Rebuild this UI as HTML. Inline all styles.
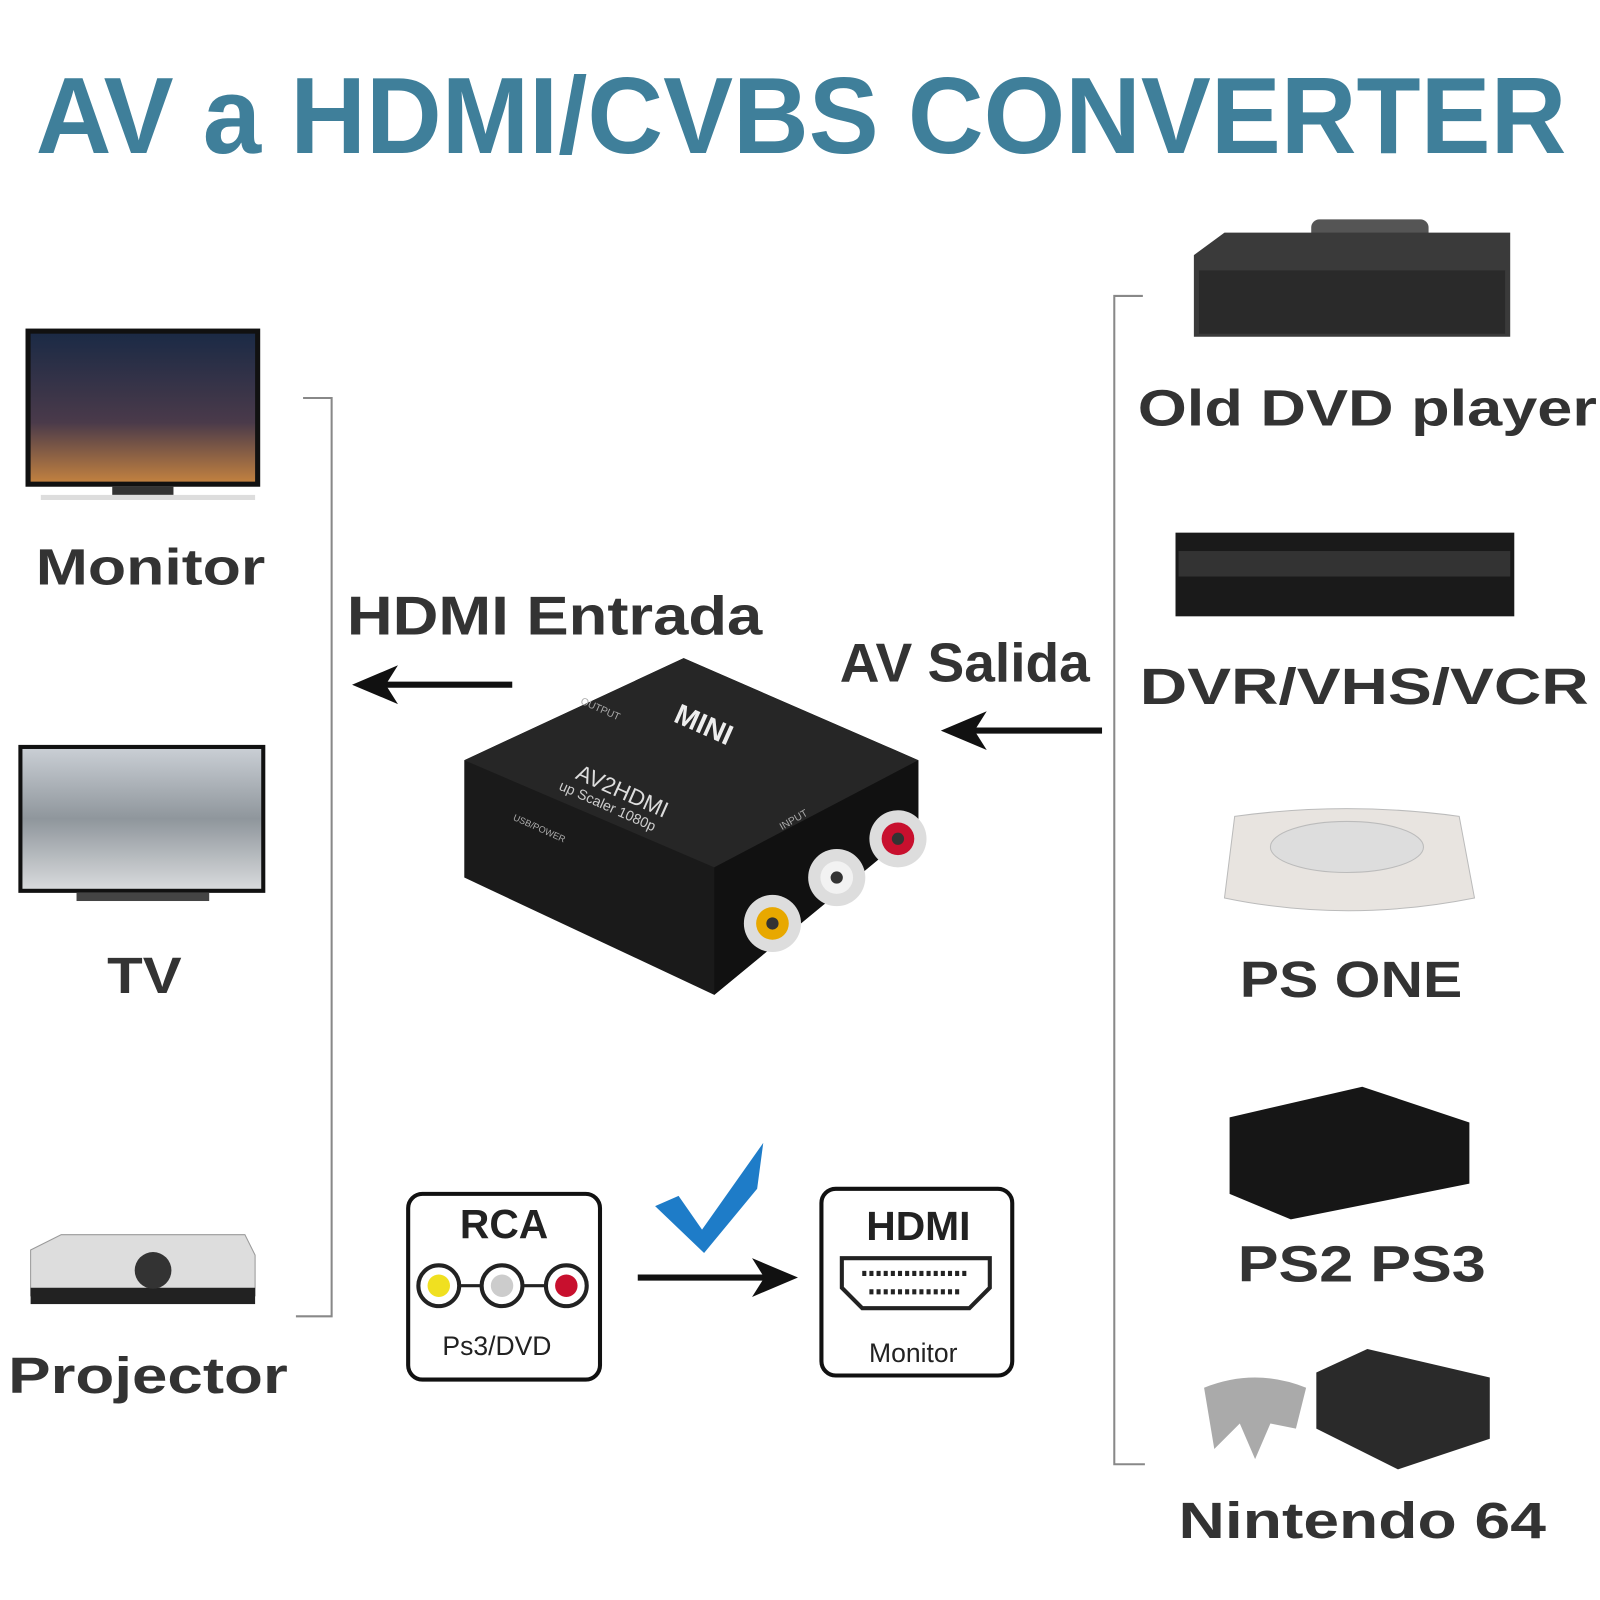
<!DOCTYPE html>
<html><head><meta charset="utf-8"><style>html,body{margin:0;padding:0;background:#fff}svg{display:block}</style></head>
<body>
<svg width="1600" height="1600" viewBox="0 0 1568 1568" xmlns="http://www.w3.org/2000/svg" font-family="Liberation Sans, sans-serif">
<defs>
<linearGradient id="city" x1="0" y1="0" x2="0" y2="1"><stop offset="0" stop-color="#1b2a45"/><stop offset="0.6" stop-color="#4a3a4a"/><stop offset="1" stop-color="#c08040"/></linearGradient>
<linearGradient id="snow" x1="0" y1="0" x2="0" y2="1"><stop offset="0" stop-color="#c9ced4"/><stop offset="0.5" stop-color="#8f969c"/><stop offset="1" stop-color="#d8dadc"/></linearGradient>
</defs>
<text x="35" y="150" font-size="106" font-weight="bold" fill="#3f7f9a" textLength="1500" lengthAdjust="spacingAndGlyphs">AV a HDMI/CVBS CONVERTER</text>

<path d="M297 390 H325 V1290 H290" fill="none" stroke="#888" stroke-width="2"/>
<path d="M1120 290 H1092 V1435 H1122" fill="none" stroke="#888" stroke-width="2"/>

<rect x="25" y="322" width="230" height="155" fill="#111"/>
<rect x="30" y="327" width="220" height="145" fill="url(#city)"/>
<rect x="110" y="477" width="60" height="8" fill="#333"/>
<rect x="40" y="485" width="210" height="5" fill="#ddd"/>
<rect x="18" y="730" width="242" height="145" fill="#111"/>
<rect x="22" y="734" width="234" height="137" fill="url(#snow)"/>
<rect x="75" y="875" width="130" height="8" fill="#444"/>
<path d="M30 1225 L60 1210 H240 L250 1230 V1270 H30 Z" fill="#ddd" stroke="#999"/>
<rect x="30" y="1262" width="220" height="16" fill="#222"/>
<circle cx="150" cy="1245" r="18" fill="#333"/>

<g font-size="50" font-weight="bold" fill="#333">
<text x="35" y="573" textLength="225" lengthAdjust="spacingAndGlyphs">Monitor</text>
<text x="105" y="973" textLength="73" lengthAdjust="spacingAndGlyphs">TV</text>
<text x="8" y="1365" textLength="274" lengthAdjust="spacingAndGlyphs">Projector</text>
</g>

<rect x="1285" y="215" width="115" height="25" rx="8" fill="#555"/>
<path d="M1170 250 L1200 228 H1480 V330 H1170 Z" fill="#3a3a3a"/>
<rect x="1175" y="265" width="300" height="62" fill="#2a2a2a"/>
<rect x="1152" y="522" width="332" height="82" fill="#1a1a1a"/>
<rect x="1155" y="540" width="325" height="25" fill="#333"/>
<path d="M1210 800 Q1320 785 1430 800 L1445 880 Q1320 905 1200 880 Z" fill="#e8e4e0" stroke="#bbb"/>
<ellipse cx="1320" cy="830" rx="75" ry="25" fill="#ddd" stroke="#bbb"/>
<path d="M1205 1095 L1335 1065 L1440 1100 V1160 L1265 1195 L1205 1170 Z" fill="#161616"/>
<path d="M1290 1345 L1340 1322 L1460 1350 V1410 L1370 1440 L1290 1400 Z" fill="#2a2a2a"/>
<path d="M1180 1360 Q1230 1340 1280 1360 L1270 1400 L1245 1395 L1230 1430 L1215 1395 L1190 1420 Z" fill="#aaa"/>

<g font-size="50" font-weight="bold" fill="#333">
<text x="1115" y="417" textLength="450" lengthAdjust="spacingAndGlyphs">Old DVD player</text>
<text x="1117" y="690" textLength="440" lengthAdjust="spacingAndGlyphs">DVR/VHS/VCR</text>
<text x="1215" y="977" textLength="218" lengthAdjust="spacingAndGlyphs">PS ONE</text>
<text x="1213" y="1256" textLength="243" lengthAdjust="spacingAndGlyphs">PS2 PS3</text>
<text x="1155" y="1507" textLength="360" lengthAdjust="spacingAndGlyphs">Nintendo 64</text>
<text x="340" y="622" font-size="54" textLength="407" lengthAdjust="spacingAndGlyphs">HDMI Entrada</text>
<text x="823" y="668" font-size="54" textLength="245" lengthAdjust="spacingAndGlyphs">AV Salida</text>
</g>

<line x1="502" y1="671" x2="370" y2="671" stroke="#111" stroke-width="6"/>
<path d="M345 671 L390 652 L378 671 L390 690 Z" fill="#111"/>
<line x1="1080" y1="716" x2="945" y2="716" stroke="#111" stroke-width="6"/>
<path d="M922 716 L967 697 L955 716 L967 735 Z" fill="#111"/>

<path d="M455 745 L670 645 L900 745 L900 810 L700 975 L455 860 Z" fill="#1a1a1a"/>
<path d="M455 745 L670 645 L900 745 L700 850 Z" fill="#262626"/>
<path d="M700 850 L900 745 L900 810 L700 975 Z" fill="#111"/>
<text x="655" y="725" font-size="28" font-weight="bold" fill="#eee" transform="rotate(24 700 725)">MINI</text>
<text x="555" y="780" font-size="22" fill="#ddd" transform="rotate(24 600 790)">AV2HDMI</text>
<text x="535" y="790" font-size="14" fill="#ccc" transform="rotate(24 580 810)">up Scaler 1080p</text>
<text x="565" y="695" font-size="10" fill="#aaa" transform="rotate(24 580 700)">OUTPUT</text>
<text x="760" y="810" font-size="10" fill="#aaa" transform="rotate(-30 770 800)">INPUT</text>
<text x="497" y="812" font-size="9" fill="#aaa" transform="rotate(24 520 820)">USB/POWER</text>
<circle cx="757" cy="905" r="28" fill="#ddd"/><circle cx="757" cy="905" r="16" fill="#e8a800"/><circle cx="757" cy="905" r="6" fill="#333"/>
<circle cx="820" cy="860" r="28" fill="#ddd"/><circle cx="820" cy="860" r="16" fill="#f2f2f2"/><circle cx="820" cy="860" r="6" fill="#333"/>
<circle cx="880" cy="822" r="28" fill="#ddd"/><circle cx="880" cy="822" r="16" fill="#c8102e"/><circle cx="880" cy="822" r="6" fill="#333"/>

<rect x="400" y="1170" width="188" height="182" rx="14" fill="#fff" stroke="#111" stroke-width="4"/>
<text x="494" y="1213" font-size="40" font-weight="bold" text-anchor="middle" fill="#222">RCA</text>
<line x1="430" y1="1260" x2="555" y2="1260" stroke="#222" stroke-width="3"/>
<circle cx="430" cy="1260" r="20" fill="#fff" stroke="#222" stroke-width="4"/><circle cx="430" cy="1260" r="11" fill="#f0e020"/>
<circle cx="492" cy="1260" r="20" fill="#fff" stroke="#222" stroke-width="4"/><circle cx="492" cy="1260" r="11" fill="#ccc"/>
<circle cx="555" cy="1260" r="20" fill="#fff" stroke="#222" stroke-width="4"/><circle cx="555" cy="1260" r="11" fill="#c8102e"/>
<text x="487" y="1328" font-size="26" text-anchor="middle" fill="#222">Ps3/DVD</text>

<rect x="805" y="1165" width="187" height="183" rx="14" fill="#fff" stroke="#111" stroke-width="4"/>
<text x="900" y="1215" font-size="40" font-weight="bold" text-anchor="middle" fill="#222">HDMI</text>
<path d="M825 1233 H970 V1262 L950 1282 H845 L825 1262 Z" fill="#fff" stroke="#222" stroke-width="4"/>
<line x1="845" y1="1248" x2="950" y2="1248" stroke="#222" stroke-width="5" stroke-dasharray="4 3"/>
<line x1="852" y1="1266" x2="943" y2="1266" stroke="#222" stroke-width="5" stroke-dasharray="4 3"/>
<text x="895" y="1335" font-size="26" text-anchor="middle" fill="#222">Monitor</text>

<line x1="625" y1="1252" x2="760" y2="1252" stroke="#111" stroke-width="6"/>
<path d="M782 1252 L737 1233 L749 1252 L737 1271 Z" fill="#111"/>
<path d="M642 1182 L665 1172 L688 1205 L748 1120 L742 1165 L690 1228 Z" fill="#1e7cc8"/>
</svg>
</body></html>
